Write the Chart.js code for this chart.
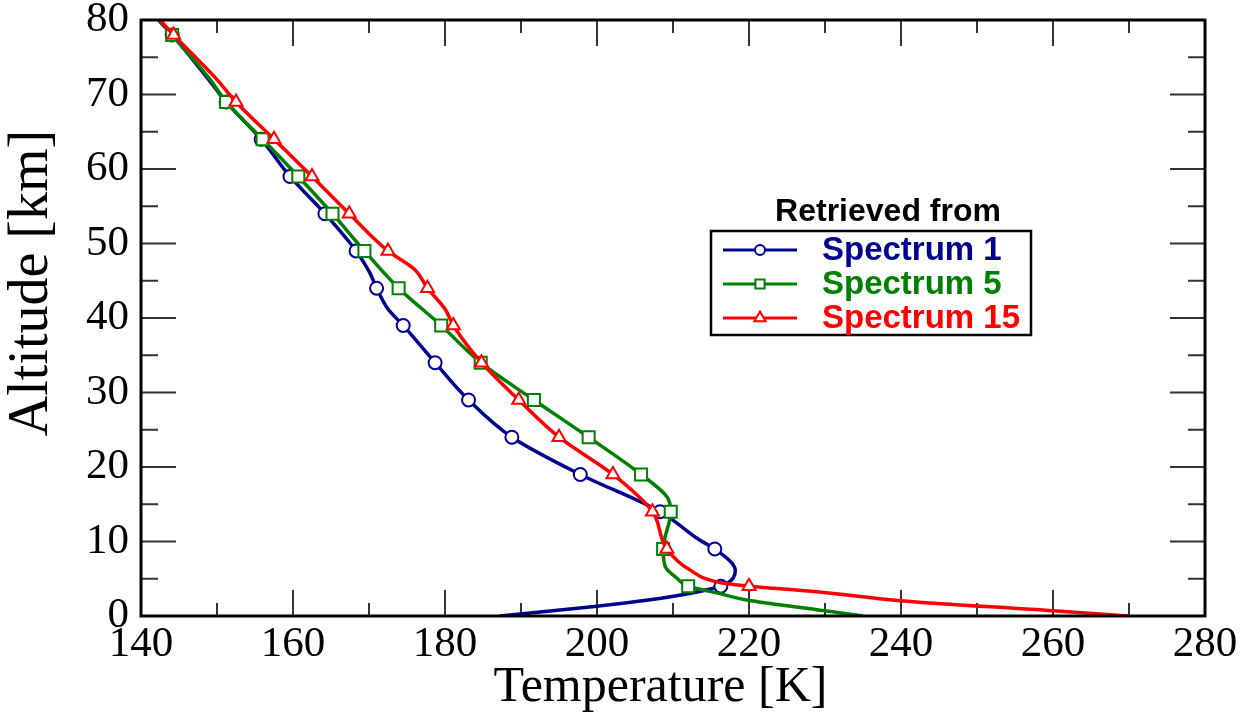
<!DOCTYPE html>
<html>
<head>
<meta charset="utf-8">
<script src="https://cdn.jsdelivr.net/npm/chart.js@4.4.1/dist/chart.umd.min.js"></script>
<style>
  html, body { margin: 0; padding: 0; background: #fff; }
</style>
</head>
<body>
<canvas id="myChart" width="1245" height="713"></canvas>
<script>
// altitude [km] / temperature [K]
var alt1  = [0, 1.3, 2.1, 3.3, 4, 6.1, 9, 10.2, 14, 19, 24, 29, 34, 39, 41.2, 44, 46.1, 49, 54, 59, 64, 69, 72, 78, 80];
var temp1 = [187.2, 200, 206.5, 213.5, 216.3, 218.2, 215.5, 213.5, 208.3, 197.8, 188.8, 183.1, 178.7, 174.5, 172.5, 171.0, 170.1, 168.3, 164.2, 159.6, 155.8, 151.2, 148.9, 144.1, 142.3];

var alt5  = [0, 0.7, 2.15, 3.0, 4, 5.1, 6.6, 9, 14, 16, 19, 24, 29, 34, 39, 44, 49, 54, 59, 64, 69, 72, 78, 80];
var temp5 = [235, 230, 219.7, 216.2, 212.0, 210.5, 209.0, 208.7, 209.7, 209.2, 205.8, 198.9, 191.7, 184.7, 179.5, 173.9, 169.4, 165.2, 160.7, 156.0, 151.2, 149.1, 144.1, 142.4];

var alt15  = [0, 0.7, 2.06, 3.3, 4, 4.5, 6.2, 9, 14, 19, 24, 29, 34, 39, 41.2, 44, 46.5, 49, 54, 59, 64, 69, 72, 78, 80];
var temp15 = [269.9, 260, 239.9, 228.5, 220.0, 216.2, 212.2, 209.2, 207.3, 202.1, 195.0, 189.7, 184.8, 181.1, 180.0, 177.7, 176.0, 172.5, 167.4, 162.5, 157.5, 152.5, 150.0, 144.3, 142.5];

// levels that carry a symbol
var markerAlts = [4, 9, 14, 19, 24, 29, 34, 39, 44, 49, 54, 59, 64, 69, 78];

var seriesNames = ['Spectrum 1', 'Spectrum 5', 'Spectrum 15'];
var legendTitle = 'Retrieved from';

var xTicks = [140, 160, 180, 200, 220, 240, 260, 280];
var yTicks = [0, 10, 20, 30, 40, 50, 60, 70, 80];

function toPoints(alts, temps) {
    return alts.map((a, i) => ({ x: temps[i], y: a }));
}

function makeSet(label, alts, temps, color, style, size, order) {
    return {
        label: label,
        data: toPoints(alts, temps),
        order: order,
        borderColor: color,
        backgroundColor: '#fff',
        borderWidth: 3.5,
        cubicInterpolationMode: 'monotone',
        pointStyle: style,
        pointRadius: (ctx) => markerAlts.includes(ctx.raw.y) ? size : 0,
        pointBorderWidth: 2,
        pointBorderColor: color,
        pointBackgroundColor: '#fff'
    };
}

const serif = '"Liberation Serif", "Times New Roman", serif';
const sans = '"Liberation Sans", Arial, sans-serif';

const frame = {
    id: 'frame',
    beforeDatasetsDraw(chart) {
        const ctx = chart.ctx, a = chart.chartArea;
        const xs = chart.scales.x, ys = chart.scales.y;
        ctx.save();
        ctx.strokeStyle = '#333';
        ctx.lineWidth = 2;
        ctx.beginPath();
        for (let v = xs.min; v <= xs.max; v += 10) {
            const px = xs.getPixelForValue(v);
            const len = xTicks.includes(v) ? 26 : 13;
            ctx.moveTo(px, a.bottom); ctx.lineTo(px, a.bottom - len);
            ctx.moveTo(px, a.top); ctx.lineTo(px, a.top + len);
        }
        for (let v = ys.min; v <= ys.max; v += 5) {
            const py = ys.getPixelForValue(v);
            const len = yTicks.includes(v) ? 35 : 17;
            ctx.moveTo(a.left, py); ctx.lineTo(a.left + len, py);
            ctx.moveTo(a.right, py); ctx.lineTo(a.right - len, py);
        }
        ctx.stroke();
        ctx.restore();
    },
    afterDraw(chart) {
        const ctx = chart.ctx, a = chart.chartArea;
        ctx.save();
        ctx.strokeStyle = '#000';
        ctx.lineWidth = 3;
        ctx.strokeRect(a.left, a.top, a.width, a.height);

        // legend
        ctx.fillStyle = '#000';
        ctx.font = 'bold 32px ' + sans;
        ctx.textAlign = 'center';
        ctx.textBaseline = 'middle';
        ctx.fillText(legendTitle, 888, 212);

        ctx.lineWidth = 2.5;
        ctx.strokeRect(711, 231, 320, 104);

        ctx.textAlign = 'left';
        chart.data.datasets.forEach((ds, i) => {
            const y = 250 + i * 34;
            ctx.strokeStyle = ds.borderColor;
            ctx.lineWidth = 3;
            ctx.beginPath();
            ctx.moveTo(723, y); ctx.lineTo(797, y);
            ctx.stroke();
            ctx.fillStyle = '#fff';
            ctx.lineWidth = 2;
            Chart.helpers.drawPoint(ctx, { pointStyle: ds.pointStyle, radius: ds.pointStyle === 'circle' ? 5 : 6.5, rotation: 0, borderWidth: 2 }, 760, y);
            ctx.fillStyle = ds.borderColor;
            ctx.font = 'bold 33px ' + sans;
            ctx.fillText(ds.label, 822, y + 1);
        });
        ctx.restore();
    }
};

const data = {
    datasets: [
        makeSet(seriesNames[0], alt1, temp1, '#000090', 'circle', 6.5, 2),
        makeSet(seriesNames[1], alt5, temp5, '#008000', 'rect', 8.5, 1),
        makeSet(seriesNames[2], alt15, temp15, '#ff0000', 'triangle', 7.5, 0)
    ]
};

const config = {
    type: 'line',
    data: data,
    options: {
        indexAxis: 'y',
        responsive: false,
        animation: false,
        events: [],
        layout: { padding: { left: 0, right: 40, top: 20, bottom: 0 } },
        plugins: { legend: { display: false }, tooltip: { enabled: false } },
        scales: {
            x: {
                type: 'linear',
                min: 140, max: 280,
                afterFit: (s) => { s.height = 97; s.paddingLeft = 0; s.paddingRight = 0; },
                afterBuildTicks: (s) => { s.ticks = xTicks.map(v => ({ value: v })); },
                grid: { display: false, drawTicks: false },
                border: { display: false },
                ticks: {
                    padding: 7,
                    color: '#000',
                    font: { family: serif, size: 43, lineHeight: 1 }
                },
                title: {
                    display: true,
                    text: 'Temperature [K]  ',
                    color: '#000',
                    padding: 0,
                    font: { family: serif, size: 50, lineHeight: 1 }
                }
            },
            y: {
                type: 'linear',
                min: 0, max: 80,
                afterFit: (s) => { s.width = 141; s.paddingTop = 0; s.paddingBottom = 0; },
                afterBuildTicks: (s) => { s.ticks = yTicks.map(v => ({ value: v })); },
                grid: { display: false, drawTicks: false },
                border: { display: false },
                ticks: {
                    padding: 12,
                    color: '#000',
                    font: { family: serif, size: 43, lineHeight: 1 }
                },
                title: {
                    display: true,
                    text: '     Altitude [km]',
                    color: '#000',
                    padding: { top: 4, bottom: 0 },
                    font: { family: serif, size: 56, lineHeight: 1 }
                }
            }
        }
    },
    plugins: [frame]
};

const myChart = new Chart(document.getElementById('myChart'), config);
</script>
</body>
</html>
